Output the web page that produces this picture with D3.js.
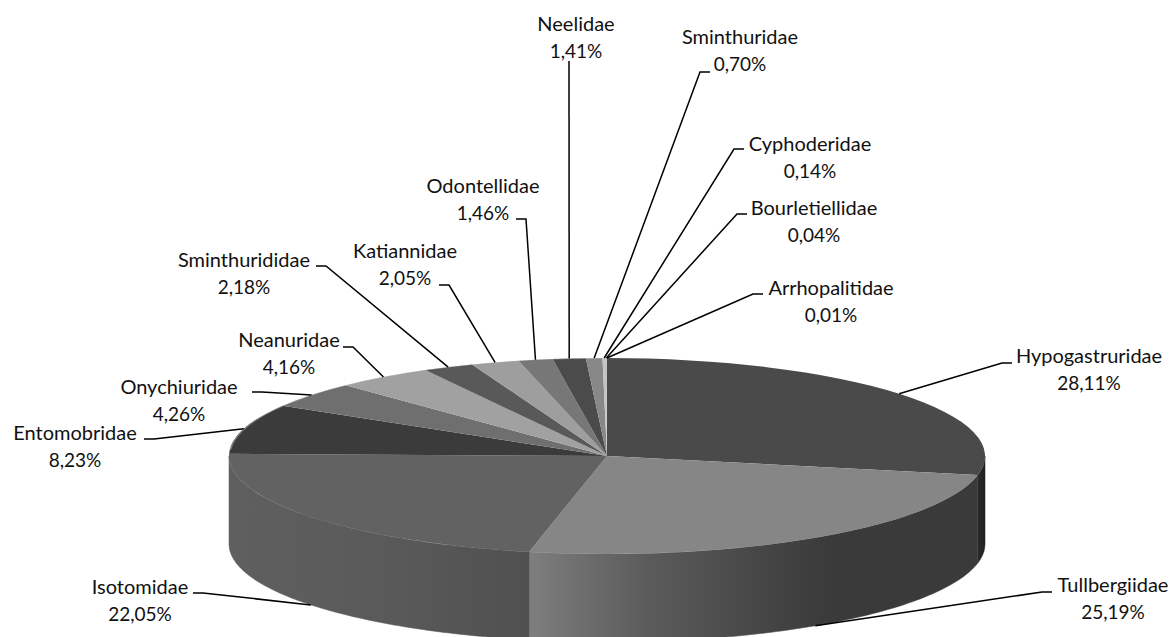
<!DOCTYPE html>
<html>
<head>
<meta charset="utf-8">
<script src="https://cdnjs.cloudflare.com/ajax/libs/d3/7.8.5/d3.min.js"></script>
<style>
  html, body { margin: 0; padding: 0; background: #fff; overflow: hidden; }
  text { font-family: Lato, "Open Sans", sans-serif; font-size: 20px; fill: #111; }
  .pct { font-size: 19px; }
</style>
</head>
<body>
<div id="chart"></div>
<script>
// families and their share in %, clockwise from 12 o'clock
const families = ["Hypogastruridae", "Tullbergiidae", "Isotomidae", "Entomobridae", "Onychiuridae",
  "Neanuridae", "Sminthurididae", "Katiannidae", "Odontellidae", "Neelidae", "Sminthuridae",
  "Cyphoderidae", "Bourletiellidae", "Arrhopalitidae"];
const shares = [28.11, 25.19, 22.05, 8.23, 4.26, 4.16, 2.18, 2.05, 1.46, 1.41, 0.70, 0.14, 0.04, 0.01];
const shareLabels = ["28,11%", "25,19%", "22,05%", "8,23%", "4,26%", "4,16%", "2,18%", "2,05%",
  "1,46%", "1,41%", "0,70%", "0,14%", "0,04%", "0,01%"];
const topGreys = ["#4a4a4a", "#868686", "#626262", "#3b3b3b", "#6f6f6f", "#a1a1a1", "#595959",
  "#9e9e9e", "#777777", "#4b4b4b", "#888888", "#c4c4c4", "#a8a8a8", "#eeeeee"];

// label layout, same order: text centre x, name baseline, elbow x, elbow y, stub direction
const labelX = [1089, 1113, 140, 75, 179, 289, 244, 405, 483, 576, 740, 810, 814, 831];
const labelY = [363, 592, 594, 440, 394, 347, 267, 258, 193, 31, 44, 151, 215, 295];
const elbowX = [1002, 1042, 203, 154, 262, 353, 326, 449, 526, 569, 700, 734, 737, 753];
const elbowY = [363, 592, 593, 439, 392, 347, 266, 285, 219, 61, 72, 149, 214, 294];
const stubDir = [1, 1, -1, -1, -1, -1, -1, -1, -1, 0, 1, 1, 1, 1];

const width = 1172, height = 637;
const cx = 607, cy = 456, rx = 378, ry = 98, depth = 88;

let svg = d3.select("#chart").append("svg")
  .attr("width", width)
  .attr("height", height);

let pie = d3.pie().sort(null).value(d => d)
  .startAngle(0).endAngle(2 * Math.PI);
let arcs = pie(shares);

// point on the top ellipse for a pie angle (0 = up, clockwise)
function rim(a) {
  return [cx + rx * Math.sin(a), cy - ry * Math.cos(a)];
}

// side wall gradients, horizontal in page space
let defs = svg.append("defs");
function sideGradient(id, x1, x2, stops) {
  let g = defs.append("linearGradient").attr("id", id)
    .attr("gradientUnits", "userSpaceOnUse")
    .attr("x1", x1).attr("x2", x2).attr("y1", 0).attr("y2", 0);
  stops.forEach(s => g.append("stop").attr("offset", s[0]).attr("stop-color", s[1]));
}
sideGradient("sideHypo", 978, 985, [[0, "#2a2a2a"], [1, "#202020"]]);
sideGradient("sideTull", 530, 978, [[0, "#7e7e7e"], [0.16, "#686868"], [0.27, "#5a5a5a"], [0.49, "#484848"], [0.67, "#3a3a3a"], [1, "#3a3a3a"]]);
sideGradient("sideIso", 229, 530, [[0, "#5f5f5f"], [0.5, "#5a5a5a"], [1, "#505050"]]);

// side walls: only the three big slices reach the front half
function wallPath(a0, a1) {
  let from = Math.max(a0, Math.PI / 2), to = Math.min(a1, 3 * Math.PI / 2);
  let p = d3.path();
  let n = 80;
  d3.range(n + 1).forEach(i => {
    let q = rim(from + (to - from) * i / n);
    if (i == 0) p.moveTo(q[0], q[1]); else p.lineTo(q[0], q[1]);
  });
  for (let i = n; i >= 0; i--) {
    let q = rim(from + (to - from) * i / n);
    p.lineTo(q[0], q[1] + depth);
  }
  p.closePath();
  return p.toString();
}
let wallFills = ["url(#sideHypo)", "url(#sideTull)", "url(#sideIso)"];
svg.append("g").selectAll("path")
  .data(arcs.slice(0, 3))
  .enter()
  .append("path")
  .attr("d", d => wallPath(d.startAngle, d.endAngle))
  .attr("fill", (d, i) => wallFills[i])
  .attr("stroke", (d, i) => wallFills[i])
  .attr("stroke-width", 0.5);

// top face, a flat pie squashed into an ellipse
let arc = d3.arc().innerRadius(0).outerRadius(rx);
let topFace = svg.append("g")
  .attr("transform", `translate(${cx},${cy}) scale(1,${ry / rx})`);
topFace.selectAll("path")
  .data(arcs)
  .enter()
  .append("path")
  .attr("d", arc)
  .attr("fill", (d, i) => topGreys[i]);

// thin light edge along the back left of the rim
topFace.append("path")
  .attr("d", d3.arc().innerRadius(rx - 1.5).outerRadius(rx)
    .startAngle(1.52 * Math.PI).endAngle(2 * Math.PI))
  .attr("fill", "#c8c8c8")
  .attr("opacity", 0.5);

// leader lines start at the middle of each slice's rim
let leader = svg.append("g");
arcs.forEach((d, i) => {
  let mid = (d.startAngle + d.endAngle) / 2;
  let start = rim(mid);
  if (Math.cos(mid) < 0) start[1] += depth;
  let pts = [start, [elbowX[i], elbowY[i]]];
  if (stubDir[i] != 0) pts.push([elbowX[i] + stubDir[i] * 10, elbowY[i]]);
  leader.append("path")
    .attr("d", d3.line()(pts))
    .attr("fill", "none")
    .attr("stroke", "#000")
    .attr("stroke-width", 1.5);
});

let labels = svg.append("g").selectAll("text")
  .data(families)
  .enter()
  .append("text")
  .attr("text-anchor", "middle")
  .attr("x", (d, i) => labelX[i])
  .attr("y", (d, i) => labelY[i]);
labels.append("tspan").attr("x", (d, i) => labelX[i]).text(d => d);
labels.append("tspan").attr("class", "pct").attr("x", (d, i) => labelX[i]).attr("dy", 27).text((d, i) => shareLabels[i]);
</script>
</body>
</html>
